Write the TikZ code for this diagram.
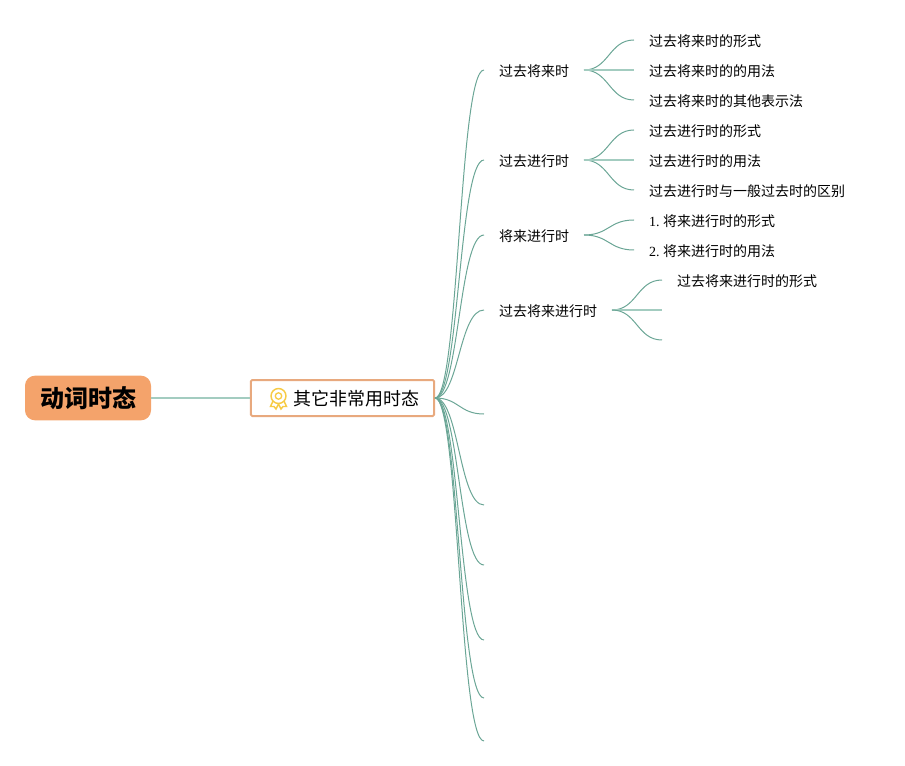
\documentclass[tikz,border=0pt]{standalone}
\usepackage{fontspec}
\setmainfont{Liberation Serif}
\newfontfamily\cjk{Noto Sans CJK SC}
\usetikzlibrary{positioning,calc}
\definecolor{rootfill}{HTML}{F4A36B}
\definecolor{boxline}{HTML}{E8A97E}
\definecolor{linkgreen}{HTML}{6BA696}
\definecolor{linklight}{HTML}{A3CCC0}
\definecolor{medal}{HTML}{F7CB45}
\tikzset{
  rootbox/.style={fill=rootfill,rounded corners=7.5pt,minimum width=94.5pt,minimum height=33.5pt,inner sep=0pt,outer sep=0pt,text height=15.5pt,text depth=1.5pt,font=\cjk\fontsize{18}{18}\selectfont\bfseries},
  midbox/.style={draw=boxline,line width=1.5pt,fill=white,rounded corners=1pt,text width=115.5pt,align=right,inner xsep=10.9pt,minimum height=27pt,inner ysep=0pt,outer sep=0.75pt,text height=13pt,text depth=1.5pt,font=\cjk\fontsize{13.5}{14}\selectfont},
  topic/.style={anchor=west,inner xsep=11.25pt,inner ysep=0pt,outer sep=0pt,text height=11pt,text depth=1.5pt,font=\cjk\fontsize{10.5}{11}\selectfont},
  link/.style={draw=linkgreen,line width=0.75pt},
  straightlink/.style={draw=linklight,line width=1.1pt},
  rootlink/.style={draw=linklight,line width=1.2pt}
}
\begin{document}
\begin{tikzpicture}[x=0.75pt,y=-0.75pt]
\useasboundingbox (0,0) rectangle (905,766);
% Root and main box
\node[rootbox] (root) at (88,398) {动词时态};
\node[midbox] (other) at (342.5,398) {其它非常用时态};
\draw[rootlink] (root) -- (other);
% Medal icon
\draw[medal,line width=1.1pt,fill=white] (273,401) -- (270.5,406.5) -- (274,406.5) -- (276,409) -- (278.5,404) -- (281,409) -- (283,406.5) -- (286.5,406.5) -- (284,401);
\draw[medal,line width=1.1pt,fill=white] (278.5,396) circle (5.6pt);
\draw[medal,line width=1pt] (278.5,396) circle (2.4pt);
% Second level topics
\node[topic] (pastfuture) at (484,70) {过去将来时};
\node[topic] (pastprog) at (484,160) {过去进行时};
\node[topic] (futureprog) at (484,235) {将来进行时};
\node[topic] (pastfutureprog) at (484,310) {过去将来进行时};
% Branches without text
\foreach \n/\y in {a/414,b/505,c/565,d/640,e/698,f/741}
  \coordinate (empty\n) at (484,\y);
\foreach \t in {pastfuture,pastprog,futureprog,pastfutureprog}
  \draw[link] (other.east) .. controls +(24,0) and +(-25,0) .. (\t.west);
\foreach \t in {emptya,emptyb,emptyc,emptyd,emptye,emptyf}
  \draw[link] (other.east) .. controls +(24,0) and +(-25,0) .. (\t);
% Leaves
\node[topic] (pf1) at (634,40) {过去将来时的形式};
\node[topic] (pf2) at (634,70) {过去将来时的的用法};
\node[topic] (pf3) at (634,100) {过去将来时的其他表示法};
\node[topic] (pp1) at (634,130) {过去进行时的形式};
\node[topic] (pp2) at (634,160) {过去进行时的用法};
\node[topic] (pp3) at (634,190) {过去进行时与一般过去时的区别};
\node[topic] (fp1) at (634,220) {{\rmfamily 1.}\hspace{0.25em}将来进行时的形式};
\node[topic] (fp2) at (634,250) {{\rmfamily 2.}\hspace{0.25em}将来进行时的用法};
\node[topic] (pfp1) at (662,280) {过去将来进行时的形式};
\coordinate (pfp2) at (662,310);
\coordinate (pfp3) at (662,340);
\foreach \s/\t in {pastfuture/pf1,pastfuture/pf3,pastprog/pp1,pastprog/pp3,futureprog/fp1,futureprog/fp2}
  \draw[link] (\s.east) .. controls +(25,0) and +(-25,0) .. (\t.west);
\foreach \s/\t in {pastfuture/pf2,pastprog/pp2}
  \draw[straightlink] (\s.east) -- (\t.west);
\draw[link] (pastfutureprog.east) .. controls +(25,0) and +(-25,0) .. (pfp1.west);
\draw[straightlink] (pastfutureprog.east) -- (pfp2);
\draw[link] (pastfutureprog.east) .. controls +(25,0) and +(-25,0) .. (pfp3);
\end{tikzpicture}
\end{document}
